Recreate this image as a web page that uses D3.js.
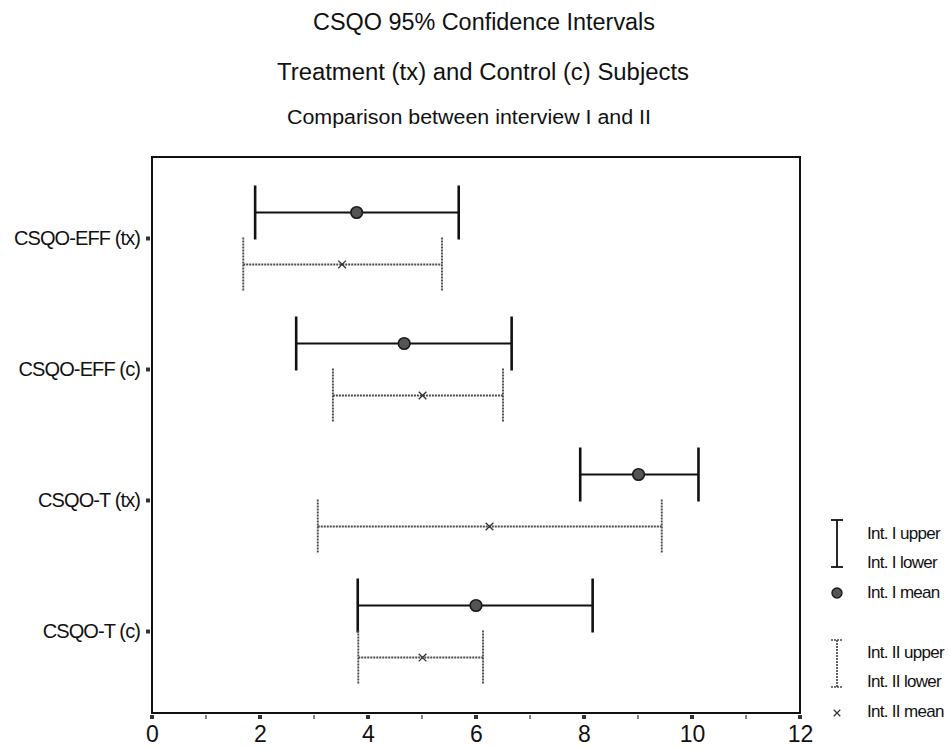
<!DOCTYPE html>
<html>
<head>
<meta charset="utf-8">
<script src="https://cdn.jsdelivr.net/npm/d3@7"></script>
<style>
  html, body { margin: 0; padding: 0; background: #fff; }
  svg { display: block; font-family: "Liberation Sans", Arial, Helvetica, sans-serif; }
</style>
</head>
<body>
<svg id="chart" width="950" height="748"></svg>
<script>
// Groups on the vertical axis
const categories = ["CSQO-EFF (tx)", "CSQO-EFF (c)", "CSQO-T (tx)", "CSQO-T (c)"];

// Interview I: 95% confidence interval bounds and mean
const int1Lower = [1.91, 2.67, 7.93, 3.81];
const int1Mean  = [3.79, 4.67, 9.01, 6.00];
const int1Upper = [5.68, 6.66, 10.12, 8.16];

// Interview II: 95% confidence interval bounds and mean
const int2Lower = [1.69, 3.35, 3.07, 3.82];
const int2Mean  = [3.52, 5.01, 6.25, 5.01];
const int2Upper = [5.37, 6.50, 9.44, 6.13];

// Axis ticks
const xMajorTicks = [0, 2, 4, 6, 8, 10, 12];
const xMinorTicks = [1, 3, 5, 7, 9, 11];

const titles = [
  "CSQO 95% Confidence Intervals",
  "Treatment (tx) and Control (c) Subjects",
  "Comparison between interview I and II"
];

const legendLabels = [
  "Int. I upper", "Int. I lower", "Int. I mean",
  "Int. II upper", "Int. II lower", "Int. II mean"
];

const svg = d3.select("#chart");

const plot = { left: 152, right: 800, top: 157, bottom: 713 };

const x = d3.scaleLinear().domain([0, 12]).range([plot.left, plot.right]);
const y = d3.scalePoint().domain(categories).range([plot.top, plot.bottom]).padding(0.622);

const intervals = [
  { key: "I",  lower: int1Lower, mean: int1Mean, upper: int1Upper, offset: -26,
    stroke: "#111", width: 2.2, capWidth: 2.6, dash: null },
  { key: "II", lower: int2Lower, mean: int2Mean, upper: int2Upper, offset: 26,
    stroke: "#4a4a4a", width: 1.8, capWidth: 1.9, dash: "2,1" }
];
const capHalf = 27;

// Titles
const titleY = [30, 80, 124];
const titleX = [484, 483, 469];
const titleSize = [23, 23, 20];
const titleWidth = [342, 412, 364];
svg.selectAll("text.title")
  .data(titles)
  .join("text")
  .attr("class", "title")
  .attr("x", (d, i) => titleX[i])
  .attr("y", (d, i) => titleY[i])
  .attr("text-anchor", "middle")
  .attr("font-size", (d, i) => titleSize[i])
  .attr("textLength", (d, i) => titleWidth[i])
  .attr("lengthAdjust", "spacingAndGlyphs")
  .attr("fill", "#111")
  .text(d => d);

// Interval bars
intervals.forEach(s => {
  const g = svg.append("g").attr("class", "interval-" + s.key);
  categories.forEach((c, i) => {
    const cy = y(c) + s.offset;
    const line = (x1, y1, x2, y2, w) => {
      const l = g.append("line")
        .attr("x1", x1).attr("y1", y1).attr("x2", x2).attr("y2", y2)
        .attr("stroke", s.stroke).attr("stroke-width", w);
      if (s.dash) l.attr("stroke-dasharray", s.dash);
    };
    line(x(s.lower[i]), cy, x(s.upper[i]), cy, s.width);
    line(x(s.lower[i]), cy - capHalf, x(s.lower[i]), cy + capHalf, s.capWidth);
    line(x(s.upper[i]), cy - capHalf, x(s.upper[i]), cy + capHalf, s.capWidth);
  });
});

// Interview I means: filled circles
svg.append("g").selectAll("circle")
  .data(categories)
  .join("circle")
  .attr("cx", (c, i) => x(int1Mean[i]))
  .attr("cy", c => y(c) - 26)
  .attr("r", 5.8)
  .attr("fill", "#555")
  .attr("stroke", "#1a1a1a")
  .attr("stroke-width", 1.6);

// Interview II means: small crosses
const cross = d3.symbol().type(d3.symbolX).size(40);
svg.append("g").selectAll("path")
  .data(categories)
  .join("path")
  .attr("transform", (c, i) => `translate(${x(int2Mean[i])},${y(c) + 26})`)
  .attr("d", cross)
  .attr("fill", "none")
  .attr("stroke", "#333")
  .attr("stroke-width", 1.3);

// Plot frame
svg.append("rect")
  .attr("x", plot.left).attr("y", plot.top)
  .attr("width", plot.right - plot.left).attr("height", plot.bottom - plot.top)
  .attr("fill", "none").attr("stroke", "#111").attr("stroke-width", 2);

// X axis labels
const xAxis = svg.append("g")
  .attr("transform", `translate(0,${plot.bottom})`)
  .call(d3.axisBottom(x).tickValues(xMajorTicks).tickSize(0).tickPadding(13).tickFormat(d3.format("d")));
xAxis.select(".domain").remove();
xAxis.selectAll("text")
  .attr("font-size", 23)
  .attr("fill", "#111");

// X tick marks: small squares at labelled values, short dashes between
svg.append("g").selectAll("rect")
  .data(xMajorTicks)
  .join("rect")
  .attr("x", d => x(d) - 2)
  .attr("y", plot.bottom + 2)
  .attr("width", 4).attr("height", 4)
  .attr("fill", "#333");
svg.append("g").selectAll("line")
  .data(xMinorTicks)
  .join("line")
  .attr("x1", d => x(d)).attr("x2", d => x(d))
  .attr("y1", plot.bottom + 2).attr("y2", plot.bottom + 6)
  .attr("stroke", "#333").attr("stroke-width", 1.2);

// Y axis labels
const yAxis = svg.append("g")
  .attr("transform", `translate(${plot.left},0)`)
  .call(d3.axisLeft(y).tickSize(0).tickPadding(12));
yAxis.select(".domain").remove();
yAxis.selectAll("text")
  .attr("font-size", 20)
  .attr("letter-spacing", -0.9)
  .attr("fill", "#111");

// Y tick marks
svg.append("g").selectAll("rect")
  .data(categories)
  .join("rect")
  .attr("x", plot.left - 6)
  .attr("y", c => y(c) - 2)
  .attr("width", 4).attr("height", 4)
  .attr("fill", "#333");

// Legend
const legend = svg.append("g").attr("class", "legend");
const lx = 837;
const legendBars = [
  { top: 520, bottom: 567, stroke: "#111", width: 1.8, dash: null },
  { top: 640, bottom: 687, stroke: "#4a4a4a", width: 1.7, dash: "2,1" }
];
legendBars.forEach(b => {
  [[lx, b.top, lx, b.bottom], [lx - 6, b.top, lx + 6, b.top], [lx - 6, b.bottom, lx + 6, b.bottom]]
    .forEach(p => {
      const l = legend.append("line")
        .attr("x1", p[0]).attr("y1", p[1]).attr("x2", p[2]).attr("y2", p[3])
        .attr("stroke", b.stroke).attr("stroke-width", b.width);
      if (b.dash) l.attr("stroke-dasharray", b.dash);
    });
});
legend.append("circle")
  .attr("cx", lx).attr("cy", 593).attr("r", 5)
  .attr("fill", "#555").attr("stroke", "#1a1a1a").attr("stroke-width", 1.4);
legend.append("path")
  .attr("transform", `translate(${lx},713)`)
  .attr("d", d3.symbol().type(d3.symbolX).size(30))
  .attr("fill", "none").attr("stroke", "#333").attr("stroke-width", 1.2);

const legendY = [539, 568, 598, 658, 687, 717];
legend.selectAll("text")
  .data(legendLabels)
  .join("text")
  .attr("x", 867)
  .attr("y", (d, i) => legendY[i])
  .attr("font-size", 17)
  .attr("letter-spacing", -0.7)
  .attr("fill", "#111")
  .text(d => d);
</script>
</body>
</html>
